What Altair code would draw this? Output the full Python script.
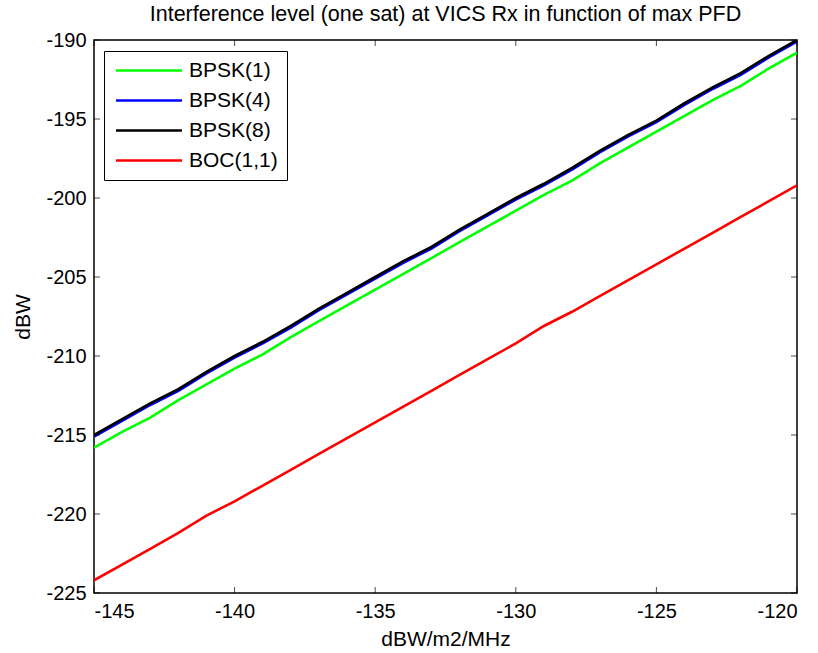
import altair as alt
import pandas as pd

x_vals = list(range(-145, -119))
bpsk1 = [-215.8, -214.8, -213.9, -212.8, -211.8, -210.8, -209.9, -208.8, -207.8, -206.8,
         -205.8, -204.8, -203.8, -202.8, -201.8, -200.8, -199.8, -198.9, -197.8, -196.8,
         -195.8, -194.8, -193.8, -192.9, -191.8, -190.8]
bpsk4 = [-215.1, -214.1, -213.1, -212.2, -211.1, -210.1, -209.2, -208.2, -207.1, -206.1,
         -205.1, -204.1, -203.2, -202.1, -201.1, -200.1, -199.2, -198.2, -197.1, -196.1,
         -195.2, -194.1, -193.1, -192.2, -191.1, -190.1]
bpsk8 = [-215.0, -214.0, -213.0, -212.1, -211.0, -210.0, -209.1, -208.1, -207.0, -206.0,
         -205.0, -204.0, -203.1, -202.0, -201.0, -200.0, -199.1, -198.1, -197.0, -196.0,
         -195.1, -194.0, -193.0, -192.1, -191.0, -190.0]
boc11 = [-224.2, -223.2, -222.2, -221.2, -220.1, -219.2, -218.2, -217.2, -216.2, -215.2,
         -214.2, -213.2, -212.2, -211.2, -210.2, -209.2, -208.1, -207.2, -206.2, -205.2,
         -204.2, -203.2, -202.2, -201.2, -200.2, -199.2]
series_names = ["BPSK(1)", "BPSK(4)", "BPSK(8)", "BOC(1,1)"]
series_colors = ["#00ff00", "#0000ff", "#000000", "#ff0000"]
x_ticks = [-145, -140, -135, -130, -125, -120]
y_ticks = [-225, -220, -215, -210, -205, -200, -195, -190]

rows = []
for name, vals in zip(series_names, [bpsk1, bpsk4, bpsk8, boc11]):
    for xv, yv in zip(x_vals, vals):
        rows.append({"x": xv, "y": yv, "series": name, "order": series_names.index(name)})
df = pd.DataFrame(rows)

W, H = 703, 553
FONT = "Liberation Sans"

xscale = alt.Scale(domain=[-145, -120], nice=False, zero=False)
yscale = alt.Scale(domain=[-225, -190], nice=False, zero=False)

lines = alt.Chart(df).mark_line(strokeWidth=2.6, clip=True).encode(
    x=alt.X("x:Q", scale=xscale,
            axis=alt.Axis(title="dBW/m2/MHz", values=x_ticks, ticks=False, domain=False, grid=False,
                          labelExpr="'' + datum.value",
                          labelPadding=8, labelFontSize=20, labelFont=FONT, labelColor="black",
                          titleFontSize=21, titleFont=FONT, titleFontWeight="normal", titleColor="black",
                          titleBaseline="alphabetic", titleY=52)),
    y=alt.Y("y:Q", scale=yscale,
            axis=alt.Axis(title="dBW", values=y_ticks, ticks=False, domain=False, grid=False,
                          labelExpr="'' + datum.value",
                          labelPadding=8, labelFontSize=20, labelFont=FONT, labelColor="black",
                          titleFontSize=21, titleFont=FONT, titleFontWeight="normal", titleColor="black",
                          titleBaseline="alphabetic", titleX=-65, titleY=H / 2, titleAlign="center")),
    color=alt.Color("series:N", scale=alt.Scale(domain=series_names, range=series_colors),
                    legend=alt.Legend(title=None, orient="none", legendX=10, legendY=11,
                                      symbolType="M-1.36,0H10.64", symbolSize=121, symbolStrokeWidth=2.6,
                                      labelFontSize=21, labelFont=FONT, labelColor="black",
                                      strokeColor="black", fillColor="white", padding=9,
                                      rowPadding=8, labelOffset=55)),
    order=alt.Order("order:Q"),
    detail="series:N",
)

xt = pd.DataFrame({"v": x_ticks})
yt = pd.DataFrame({"v": y_ticks})
tick_x_bottom = alt.Chart(xt).mark_tick(orient="vertical", size=6, thickness=1, color="black").encode(
    x=alt.X("v:Q", scale=xscale), y=alt.value(H - 3))
tick_x_top = alt.Chart(xt).mark_tick(orient="vertical", size=6, thickness=1, color="black").encode(
    x=alt.X("v:Q", scale=xscale), y=alt.value(3))
tick_y_left = alt.Chart(yt).mark_tick(orient="horizontal", size=6, thickness=1, color="black").encode(
    y=alt.Y("v:Q", scale=yscale), x=alt.value(3))
tick_y_right = alt.Chart(yt).mark_tick(orient="horizontal", size=6, thickness=1, color="black").encode(
    y=alt.Y("v:Q", scale=yscale), x=alt.value(W - 3))

chart = alt.layer(lines, tick_x_bottom, tick_x_top, tick_y_left, tick_y_right).properties(
    width=W, height=H,
    title=alt.TitleParams("Interference level (one sat) at VICS Rx in function of max PFD",
                          fontSize=21.5, font=FONT, fontWeight="normal", color="black",
                          anchor="middle", baseline="alphabetic", offset=-12),
    autosize=alt.AutoSizeParams(type="none"),
    padding={"left": 94, "top": 40, "right": 21, "bottom": 60},
    background="white",
).configure_view(stroke="black", strokeWidth=1.5)

chart.save("out.html", embed_options={"renderer": "svg", "actions": False})
